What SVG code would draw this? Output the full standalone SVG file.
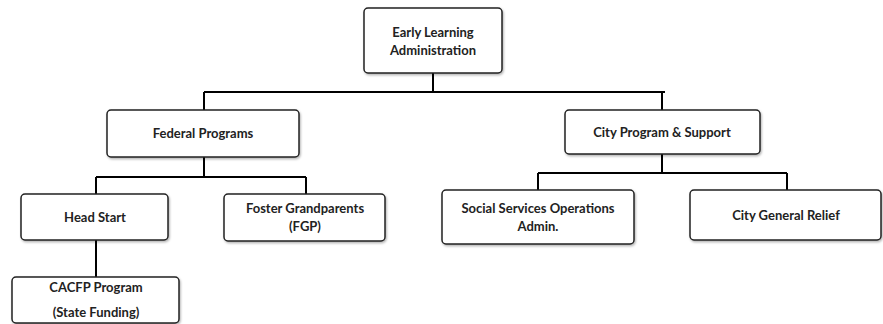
<svg xmlns="http://www.w3.org/2000/svg" width="883" height="324" viewBox="0 0 883 324">
<style>
.box{fill:#fff;stroke:#222;stroke-width:1.5;filter:url(#sh)}
.t{font-family:Lato,"Liberation Sans",sans-serif;font-weight:bold;font-size:13px;fill:#222;text-anchor:middle}
.c{stroke:#000;stroke-width:2;fill:none}
</style>
<defs>
<filter id="sh" x="-10%" y="-10%" width="120%" height="130%">
<feDropShadow dx="1" dy="1.5" stdDeviation="1" flood-color="#000" flood-opacity="0.3"/>
</filter>
</defs>
<rect width="883" height="324" fill="#fff"/>
<g id="connectors">
<path class="c" d="M433 73V92M204 92H665M204 92V110M662 92V110"/>
<path class="c" d="M204 157V177M96 177H306M96 177V194M306 177V194M96 240V277"/>
<path class="c" d="M662 154V173M538 173H787M538 173V190M787 173V190"/>
</g>
<g id="n-ela"><rect class="box" x="364" y="8" width="138" height="65" rx="4"/><text class="t" x="433" y="37">Early Learning</text><text class="t" x="433" y="55">Administration</text></g>
<g id="n-fed"><rect class="box" x="107" y="110" width="192" height="47" rx="4"/><text class="t" x="203" y="138">Federal Programs</text></g>
<g id="n-city"><rect class="box" x="565" y="110" width="195" height="44" rx="4"/><text class="t" x="662" y="137">City Program &amp; Support</text></g>
<g id="n-hs"><rect class="box" x="21" y="194" width="147" height="46" rx="4"/><text class="t" x="95" y="222">Head Start</text></g>
<g id="n-fgp"><rect class="box" x="224" y="194" width="161" height="47" rx="4"/><text class="t" x="305" y="213">Foster Grandparents</text><text class="t" x="305" y="231">(FGP)</text></g>
<g id="n-sso"><rect class="box" x="442" y="190" width="192" height="54" rx="4"/><text class="t" x="538" y="213">Social Services Operations</text><text class="t" x="538" y="231">Admin.</text></g>
<g id="n-cgr"><rect class="box" x="690" y="190" width="191" height="50" rx="4"/><text class="t" x="786" y="220">City General Relief</text></g>
<g id="n-cacfp"><rect class="box" x="12" y="277" width="167" height="46" rx="4"/><text class="t" x="96" y="292">CACFP Program</text><text class="t" x="96" y="317">(State Funding)</text></g>
</svg>
